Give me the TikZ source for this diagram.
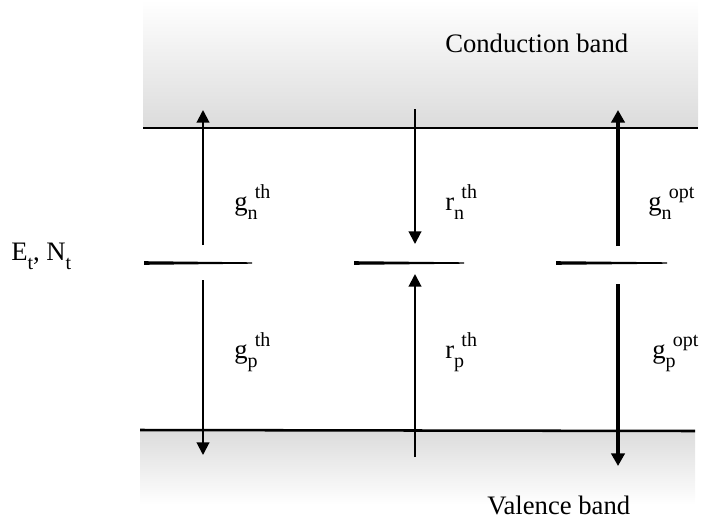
\documentclass[tikz,border=0pt]{standalone}
\usepackage{fontspec}
\setmainfont{Liberation Serif}
\usetikzlibrary{arrows.meta}
\newcommand\lsub[1]{\raisebox{-0.36em}{\fontsize{15}{15}\selectfont #1}}
\newcommand\lsup[1]{\kern-2pt\raisebox{0.42em}{\fontsize{15}{15}\selectfont #1}}
\begin{document}
\begin{tikzpicture}[x=0.75pt,y=-0.75pt,
  thinarrow/.style={line width=1.5pt,-{Triangle[length=9.5pt,width=9.5pt]}},
  thickarrow/.style={line width=3.2pt,-{Triangle[length=9.5pt,width=10pt]}},
  bandline/.style={line width=1.9pt},
  lbl/.style={anchor=base west,inner sep=0pt,font=\fontsize{20}{24}\selectfont}]
\useasboundingbox (0,0) rectangle (712,528);
% bands
\shade[top color=white,bottom color=gray!28] (143,0) rectangle (698,128);
\shade[top color=gray!28,bottom color=white] (140,430) rectangle (695,505);
\draw[bandline] (143,128) -- (698,128);
\draw[bandline] (140,430) -- (695,431);
% trap levels (tapered)
\foreach \a/\b in {144/252,354/464,556/667}{
  \fill (\a,261.2) -- (\b,262.3) -- (\b,263.7) -- (\a,264.8) -- cycle;
}
% column 1
\coordinate (c1t) at (203,245);
\coordinate (c1top) at (203,110);
\coordinate (c1b) at (203,280);
\coordinate (c1bot) at (203,455);
\draw[thinarrow] (c1t) -- (c1top);
\draw[thinarrow] (c1b) -- (c1bot);
% column 2
\coordinate (c2top) at (415,109);
\coordinate (c2t) at (415,244);
\coordinate (c2bot) at (415,457);
\coordinate (c2b) at (415,274);
\draw[thinarrow] (c2top) -- (c2t);
\draw[thinarrow] (c2bot) -- (c2b);
% column 3
\coordinate (c3t) at (618,246);
\coordinate (c3top) at (618,110);
\coordinate (c3b) at (618,284);
\coordinate (c3bot) at (618,466);
\draw[thickarrow] (c3t) -- (c3top);
\draw[thickarrow] (c3b) -- (c3bot);
% labels
\node[lbl] (cb) at (445,53) {Conduction band};
\node[lbl] (vb) at (487,514) {Valence band};
\node[lbl] (et) at (11,260) {E\lsub{t}, N\lsub{t}};
\node[lbl] (gnth) at (234,210) {g\lsub{n}\lsup{th}};
\node[lbl] (rnth) at (445,210) {r\lsub{n}\lsup{th}};
\node[lbl] (gnopt) at (648,210) {g\lsub{n}\lsup{opt}};
\node[lbl] (gpth) at (234,358) {g\lsub{p}\lsup{th}};
\node[lbl] (rpth) at (445,358) {r\lsub{p}\lsup{th}};
\node[lbl] (gpopt) at (652,358) {g\lsub{p}\lsup{opt}};
\end{tikzpicture}
\end{document}
